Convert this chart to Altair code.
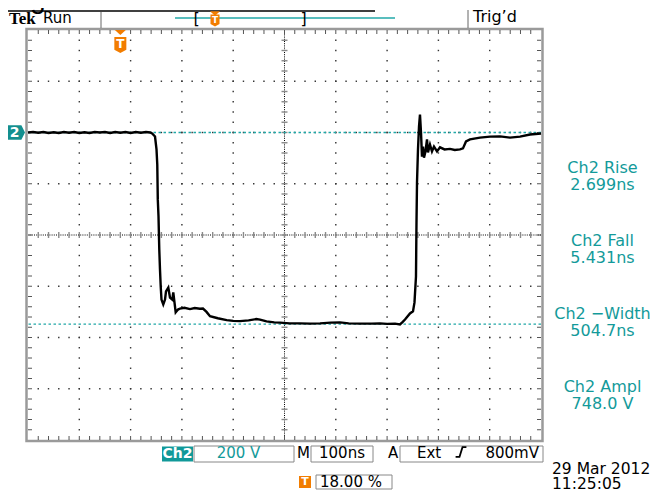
import altair as alt
import pandas as pd
import numpy as np

# ---------------- waveform (time in ns relative to trigger, Ch2 in volts) ----------------
t_ns = [-180, -170, -160, -150, -140, -130, -120, -110, -100, -90, -80, -70, -60, -50, -40,
        -30, -20, -10, 0, 10, 20, 30, 40, 50, 58, 62, 67.6, 70.5, 72, 73, 74.4, 75.9, 77.3,
        78.7, 80.2, 83.7, 87.1, 89, 93.5, 96.8, 101.3, 103.2, 107.9, 112.4, 116.3, 125,
        135.8, 145, 155, 161.1, 168, 174.8, 190, 207.3, 220, 233.3, 250, 265, 272.3, 285,
        300, 311.2, 330, 350, 370, 389.2, 410, 428.2, 445, 467.2, 490, 506.2, 520, 535.4,
        545.1, 550, 554.9, 564.6, 570.5, 573.4, 576.3, 577.3, 578.3, 580.2, 582.2, 584.1,
        586.1, 588, 590, 591.9, 594.8, 597.8, 599.7, 603.6, 607.5, 611.4, 617.3, 623.1,
        632, 642.6, 652, 662.1, 667.9, 673.8, 681.6, 701.1, 720.6, 740.1, 759.6, 779.1,
        798.6, 820]
v_ch2 = [0, 2, -1, 2, -2, 1, -2, 2, -1, 2, -2, 1, -2, 2, 0,
         2, -2, 2, -1, 2, -2, 2, -1, 2, 0, -4, -15.6, -66, -125, -261, -328, -456, -535,
         -601, -652, -671, -652, -620, -605, -644, -652, -624, -702, -691, -687, -684,
         -689, -685, -688, -687, -700, -717, -725, -732, -735, -736, -733, -728, -730, -737,
         -741, -742, -745, -745, -746, -745, -742, -741, -745, -746, -746, -745, -747, -746,
         -749, -740, -730, -706, -698, -663, -562, -351, -195, -66, 23, 70,
         0, -94, -55, -98, -74, -27, -78, -47, -74, -55, -74, -58,
         -66, -64, -68, -66, -62, -35, -27, -20, -16, -15, -20, -16,
         -8, -4]

ref_levels = [0, -748]           # Ch2 high / low reference levels (V)
trigger_time = [0]               # trigger position (ns)

meas_names = ["Ch2 Rise", "Ch2 Fall", "Ch2 \u2212Width", "Ch2 Ampl"]
meas_values = ["2.699ns", "5.431ns", "504.7ns", "748.0 V"]

title_text = "Negative Rise & Fall Time Test"
ch_label = "Ch2"
volts_div = "200 V"
time_div = "100ns"
trig_src = "Ext"
trig_level = "800mV"
trig_pos = "18.00 %"
date_text = "29 Mar 2012"
time_text = "11:25:05"

# ---------------- layout ----------------
W, H = 513, 410
X_DOM = [-180, 820]      # 10 div x 100 ns
Y_DOM = [-1200, 400]     # 8 div x 200 V
TEAL = "#139a9a"
TEAL_L = "#22a8a8"
ORANGE = "#f27d00"
SANS = "DejaVu Sans"

xs = alt.Scale(domain=X_DOM, nice=False, zero=False)
ys = alt.Scale(domain=Y_DOM, nice=False, zero=False)


def X(f):
    return alt.X(f, type="quantitative", scale=xs, axis=None)


def Y(f):
    return alt.Y(f, type="quantitative", scale=ys, axis=None)


def txt(s, px, py, size=15, color="black", align="left", font=SANS, weight="normal", baseline="alphabetic"):
    return alt.Chart(pd.DataFrame({"s": [s]})).mark_text(
        font=font, fontSize=size, color=color, align=align, fontWeight=weight, baseline=baseline
    ).encode(x=alt.value(px), y=alt.value(py), text="s:N")


def box(x1, x2, y1, y2, fill=None, stroke=None, sw=1.0):
    kw = {}
    if fill is not None:
        kw["fill"] = fill
        kw["fillOpacity"] = 1
    else:
        kw["fillOpacity"] = 0
    if stroke is not None:
        kw["stroke"] = stroke
        kw["strokeWidth"] = sw
    return alt.Chart(pd.DataFrame({"a": [0]})).mark_rect(**kw).encode(
        x=alt.value(x1), x2=alt.value(x2), y=alt.value(y1), y2=alt.value(y2))


def hline(x1, x2, y, color="black", sw=1.0):
    return alt.Chart(pd.DataFrame({"a": [0]})).mark_rule(color=color, strokeWidth=sw).encode(
        x=alt.value(x1), x2=alt.value(x2), y=alt.value(y))


def vline(x, y1, y2, color="black", sw=1.0):
    return alt.Chart(pd.DataFrame({"a": [0]})).mark_rule(color=color, strokeWidth=sw).encode(
        x=alt.value(x), y=alt.value(y1), y2=alt.value(y2))


def sym(shape, px, py, size, color, filled=True, sw=0):
    m = dict(shape=shape, size=size, opacity=1)
    if filled:
        m.update(filled=True, fill=color, strokeWidth=0)
    else:
        m.update(filled=False, stroke=color, strokeWidth=sw)
    return alt.Chart(pd.DataFrame({"a": [0]})).mark_point(**m).encode(x=alt.value(px), y=alt.value(py))


# graticule dots
gx, gy = [], []
for k in [1, 2, 3, 4, 6, 7, 8, 9]:
    for v in np.arange(-1160, 400, 40):
        gx.append(-180 + 100 * k)
        gy.append(v)
for m in [1, 2, 3, 5, 6, 7]:
    for t in np.arange(-160, 820, 20):
        gx.append(t)
        gy.append(-1200 + 200 * m)
grid_df = pd.DataFrame({"t": gx, "v": gy})
dots = alt.Chart(grid_df).mark_square(size=2, color="#333", opacity=1).encode(x=X("t"), y=Y("v"))

# center cross
cx_df = pd.DataFrame({"t": [320]})
cy_df = pd.DataFrame({"v": [-400]})
center_v = alt.Chart(cx_df).mark_rule(color="black", strokeDash=[1, 1.2], strokeWidth=1).encode(x=X("t"))
center_h = alt.Chart(cy_df).mark_rule(color="black", strokeDash=[1, 1.2], strokeWidth=1).encode(y=Y("v"))
tick_t = pd.DataFrame({"t": np.arange(-160, 820, 20), "v": -400})
tick_v = pd.DataFrame({"v": np.arange(-1160, 400, 40), "t": 320})
ctick_h = alt.Chart(tick_t).mark_tick(orient="vertical", size=6, thickness=1.4, color="#8a8a8a", opacity=1).encode(x=X("t"), y=Y("v"))
ctick_v = alt.Chart(tick_v).mark_tick(orient="horizontal", size=6, thickness=1.4, color="#8a8a8a", opacity=1).encode(x=X("t"), y=Y("v"))

# border ticks
bt = pd.DataFrame({"t": np.arange(-160, 820, 20)})
bv = pd.DataFrame({"v": np.arange(-1160, 400, 40)})
btop = alt.Chart(bt).mark_rule(color="#555", strokeWidth=1).encode(x=X("t"), y=alt.value(0), y2=alt.value(4))
bbot = alt.Chart(bt).mark_rule(color="#555", strokeWidth=1).encode(x=X("t"), y=alt.value(H - 4), y2=alt.value(H))
bleft = alt.Chart(bv).mark_rule(color="#555", strokeWidth=1).encode(y=Y("v"), x=alt.value(0), x2=alt.value(4))
bright = alt.Chart(bv).mark_rule(color="#555", strokeWidth=1).encode(y=Y("v"), x=alt.value(W - 4), x2=alt.value(W))
frame = box(-1.5, W + 1.5, -1, H + 1, stroke="#9a9a9a", sw=2.5)

# reference levels
refs = alt.Chart(pd.DataFrame({"v": ref_levels})).mark_rule(
    color=TEAL_L, strokeDash=[2.5, 2.5], strokeWidth=1.3).encode(y=Y("v"))

# trace
trace = alt.Chart(pd.DataFrame({"t": t_ns, "v": v_ch2})).mark_line(
    color="black", strokeWidth=2.4, interpolate="linear").encode(x=X("t"), y=Y("v"), order="t:Q")

# trigger marker on screen
trig_df = pd.DataFrame({"t": trigger_time})
trig_tri = alt.Chart(trig_df).mark_point(shape="M-1,-0.45 L1,-0.45 L0,0.45 Z", size=121, filled=True,
                                         fill=ORANGE, strokeWidth=0, opacity=1).encode(x=X("t"), y=alt.value(2.5))
trig_body = alt.Chart(trig_df).mark_point(shape="M-0.75,-1 L0.75,-1 L0.75,0.6 L0,1 L-0.75,0.6 Z", size=256,
                                          filled=True, fill=ORANGE, strokeWidth=0, opacity=1).encode(x=X("t"), y=alt.value(15))
trig_T = alt.Chart(trig_df).mark_text(text="T", font=SANS, fontWeight="bold", fontSize=12, color="white",
                                      baseline="middle").encode(x=X("t"), y=alt.value(14))

# ground marker "2"
gnd_df = pd.DataFrame({"v": [ref_levels[0]]})
gnd_box = alt.Chart(gnd_df).mark_point(shape="M-1,-0.8 L0.6,-0.8 L1,0 L0.6,0.8 L-1,0.8 Z", size=324,
                                       filled=True, fill="#138f8f", strokeWidth=0, opacity=1).encode(x=alt.value(-12), y=Y("v"))
gnd_txt = alt.Chart(gnd_df).mark_text(text="2", font=SANS, fontWeight="bold", fontSize=14, color="white",
                                      baseline="middle").encode(x=alt.value(-13.5), y=Y("v"))

# measurements on the right
mdf = pd.DataFrame({"name": meas_names, "val": meas_values})
mdf["py1"] = 138 + 73 * mdf.index
mdf["py2"] = mdf["py1"] + 16.5
m1 = alt.Chart(mdf).mark_text(font=SANS, fontSize=16, color=TEAL, align="center").encode(
    x=alt.value(574.5), y=alt.Y("py1:Q", scale=None), text="name:N")
m2 = alt.Chart(mdf).mark_text(font=SANS, fontSize=16, color=TEAL, align="center").encode(
    x=alt.value(574.5), y=alt.Y("py2:Q", scale=None), text="val:N")

# header
header = [
    txt(title_text, 347, -22, size=28, font="Liberation Sans", align="right"),
    hline(-40, 347, -19, sw=1.5),
    txt("Tek", -19, -6, size=17, font="Liberation Serif", weight="bold"),
    txt("Run", 15, -7, size=15),
    vline(73, -18, -2, color="#666"),
    hline(147, 367, -12, color=TEAL_L, sw=1.5),
    txt("[", 168.5, -6, size=16, align="center"),
    txt("]", 275.5, -6, size=16, align="center"),
    sym("M-1,-0.45 L1,-0.45 L0,0.45 Z", 187, -16.5, 100, ORANGE),
    sym("M-0.75,-1 L0.75,-1 L0.75,0.6 L0,1 L-0.75,0.6 Z", 187, -9.5, 144, ORANGE),
    txt("T", 187, -10, size=9, color="white", align="center", weight="bold", baseline="middle"),
    vline(440, -20, -2, color="#666"),
    txt("Trig\u2019d", 445, -8, size=16),
]

# bottom status bar
status = [
    box(134, 165, 416.5, 431.5, fill="#119999"),
    txt(ch_label, 149.5, 428, size=14, color="white", align="center", weight="bold"),
    box(166, 266, 416, 432, stroke="#888"),
    txt(volts_div, 210.5, 428, color=TEAL, align="center"),
    txt("M", 269, 428),
    box(283, 345, 416, 432, stroke="#888"),
    txt(time_div, 314, 428, align="center"),
    txt("A", 360, 428),
    box(372, 515, 416, 432, stroke="#888"),
    txt(trig_src, 389, 428),
    sym("M-0.9,0.8 L-0.25,0.8 L0.25,-0.8 L0.9,-0.8", 433, 422, 144, "black", filled=False, sw=1.8),
    txt(trig_level, 511, 428, align="right"),
    box(271, 283, 446, 458, fill=ORANGE),
    txt("T", 277, 452, size=11, color="white", align="center", weight="bold", baseline="middle"),
    box(288, 364, 445, 459, stroke="#888"),
    txt(trig_pos, 292, 457),
    txt(date_text, 524, 444, size=15.5),
    txt(time_text, 524, 458.5, size=15.5),
]

layers = [frame, dots, center_v, center_h, ctick_h, ctick_v, btop, bbot, bleft, bright,
          refs, trace, trig_tri, trig_body, trig_T, gnd_box, gnd_txt, m1, m2] + header + status

chart = alt.layer(*layers).properties(
    width=W, height=H,
    padding={"left": 20, "top": 22, "right": 111, "bottom": 50},
    autosize=alt.AutoSizeParams(type="none"),
    background="white",
).configure_view(stroke=None)

chart.save("out.html", embed_options={"renderer": "svg", "actions": False})
